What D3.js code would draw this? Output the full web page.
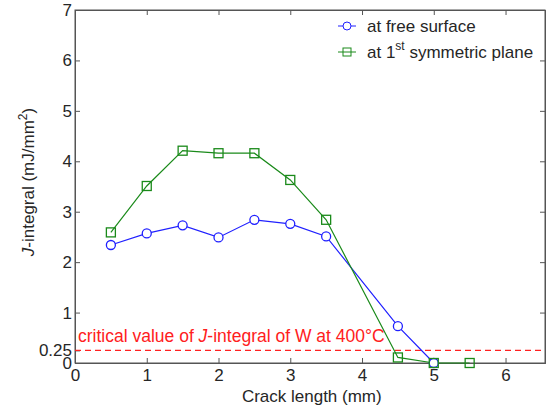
<!DOCTYPE html>
<html lang="en">
<head>
  <meta charset="UTF-8">
  <title>J-integral vs crack length</title>
  <script src="https://d3js.org/d3.v7.min.js"></script>
  <style>
    html, body { margin: 0; background: #fff; }
    svg { display: block; font-family: "Liberation Sans", Arial, sans-serif; }
    .tick text { font-size: 17px; fill: #262626; font-family: "Liberation Sans", Arial, sans-serif; }
    .tick line { stroke: #555; }
    .domain { stroke: #555; }
  </style>
</head>
<body>
  <svg width="547" height="410"></svg>
  <script>
    // crack length (mm)
    const xFree = [0.5, 1, 1.5, 2, 2.5, 3, 3.5, 4.5, 5];
    const yFree = [2.34, 2.57, 2.73, 2.49, 2.84, 2.76, 2.51, 0.73, 0];
    const xSym = [0.5, 1, 1.5, 2, 2.5, 3, 3.5, 4.5, 5, 5.5];
    const ySym = [2.59, 3.51, 4.21, 4.16, 4.16, 3.63, 2.84, 0.11, 0, 0];
    const critical = 0.25;
    const xTicks = [0, 1, 2, 3, 4, 5, 6];
    const yTicks = [0, 0.25, 1, 2, 3, 4, 5, 6, 7];

    const margin = { top: 10, right: 2, bottom: 47, left: 75 };
    const width = 547 - margin.left - margin.right;
    const height = 410 - margin.top - margin.bottom;

    const svg = d3.select("svg");
    const g = svg.append("g").attr("transform", `translate(${margin.left},${margin.top})`);

    const x = d3.scaleLinear().domain([0, 6.55]).range([0, width]);
    const y = d3.scaleLinear().domain([0, 7]).range([height, 0]);

    // frame
    g.append("rect").attr("width", width).attr("height", height)
      .attr("fill", "none").attr("stroke", "#555");

    // axes, ticks inside
    g.append("g").attr("transform", `translate(0,${height})`)
      .call(d3.axisBottom(x).tickValues(xTicks).tickSize(-5).tickPadding(6).tickFormat(d3.format("d")));
    g.append("g")
      .call(d3.axisLeft(y).tickValues(yTicks).tickSize(-5).tickPadding(3).tickFormat(d => d === 0.25 ? "0.25" : d));
    g.append("g")
      .call(d3.axisTop(x).tickValues(xTicks).tickSize(-5).tickFormat(""));
    g.append("g").attr("transform", `translate(${width},0)`)
      .call(d3.axisRight(y).tickValues(yTicks.filter(d => d !== 0.25)).tickSize(-5).tickFormat(""));

    // critical value line
    g.append("line")
      .attr("x1", 0).attr("x2", width)
      .attr("y1", y(critical)).attr("y2", y(critical))
      .attr("stroke", "#ff2020").attr("stroke-width", 1.2).attr("stroke-dasharray", "6,4");

    const crit = g.append("text").attr("x", 3).attr("y", y(critical) - 8)
      .attr("fill", "#ff2020").style("font-size", "17.5px");
    crit.append("tspan").text("critical value of ");
    crit.append("tspan").style("font-style", "italic").text("J");
    crit.append("tspan").text("-integral of W at 400°C");

    const line = d3.line().x(d => x(d[0])).y(d => y(d[1]));
    const free = xFree.map((v, i) => [v, yFree[i]]);
    const sym = xSym.map((v, i) => [v, ySym[i]]);

    g.append("path").datum(free).attr("d", line)
      .attr("fill", "none").attr("stroke", "#2020ff").attr("stroke-width", 1.2);
    g.append("path").datum(sym).attr("d", line)
      .attr("fill", "none").attr("stroke", "#1a8a1a").attr("stroke-width", 1.2);

    g.selectAll(".mk-free").data(free).enter().append("circle")
      .attr("cx", d => x(d[0])).attr("cy", d => y(d[1])).attr("r", 4.5)
      .attr("fill", "#fff").attr("stroke", "#2020ff").attr("stroke-width", 1.3);
    g.selectAll(".mk-sym").data(sym).enter().append("rect")
      .attr("x", d => x(d[0]) - 4.5).attr("y", d => y(d[1]) - 4.5)
      .attr("width", 9).attr("height", 9)
      .attr("fill", "none").attr("stroke", "#1a8a1a").attr("stroke-width", 1.3);

    // legend
    const lg = svg.append("g").attr("transform", "translate(338,0)");
    lg.append("line").attr("x1", 0).attr("x2", 18).attr("y1", 26).attr("y2", 26).attr("stroke", "#2020ff");
    lg.append("circle").attr("cx", 9).attr("cy", 26).attr("r", 4).attr("fill", "#fff").attr("stroke", "#2020ff");
    lg.append("text").attr("x", 29).attr("y", 32).style("font-size", "17px").attr("fill", "#262626").text("at free surface");
    lg.append("line").attr("x1", 0).attr("x2", 18).attr("y1", 52).attr("y2", 52).attr("stroke", "#1a8a1a");
    lg.append("rect").attr("x", 5).attr("y", 48).attr("width", 8).attr("height", 8).attr("fill", "none").attr("stroke", "#1a8a1a");
    const t2 = lg.append("text").attr("x", 29).attr("y", 58).style("font-size", "17px").attr("fill", "#262626");
    t2.append("tspan").text("at 1");
    t2.append("tspan").attr("dy", -8).style("font-size", "12px").text("st");
    t2.append("tspan").attr("dy", 8).text(" symmetric plane");

    // axis labels
    svg.append("text").attr("x", margin.left + x(3.3)).attr("y", 402)
      .attr("text-anchor", "middle").style("font-size", "17px").attr("fill", "#262626")
      .text("Crack length (mm)");
    const yl = svg.append("text").attr("transform", "translate(34,182) rotate(-90)")
      .attr("text-anchor", "middle").style("font-size", "17px").attr("fill", "#262626");
    yl.append("tspan").style("font-style", "italic").text("J");
    yl.append("tspan").text("-integral (mJ/mm");
    yl.append("tspan").attr("dy", -7).style("font-size", "12px").text("2");
    yl.append("tspan").attr("dy", 7).text(")");
  </script>
</body>
</html>
